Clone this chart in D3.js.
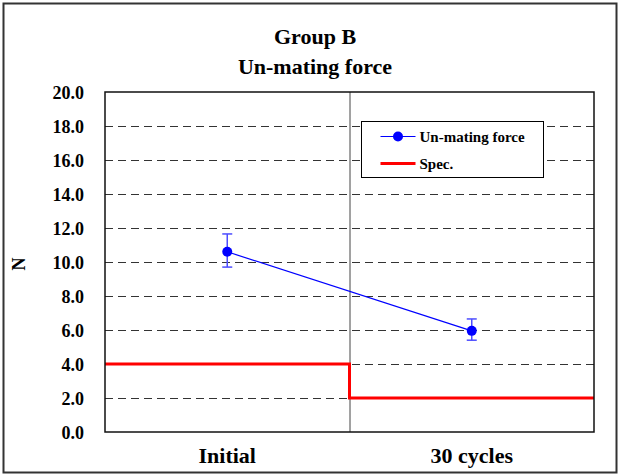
<!DOCTYPE html>
<html>
<head>
<meta charset="utf-8">
<script src="https://cdn.jsdelivr.net/npm/d3@7"></script>
<style>
  html, body { margin: 0; padding: 0; background: #fff; }
  svg { display: block; }
  text { font-family: "Liberation Serif", "Times New Roman", serif; font-weight: bold; fill: #000; }
</style>
</head>
<body>
<svg id="chart" width="621" height="475"></svg>
<script>
// ---- data ----
const categories = ["Initial", "30 cycles"];
const meanValues = [10.6, 5.95];
const errHigh = [11.65, 6.65];
const errLow = [9.7, 5.4];
const specValues = [4.0, 2.0];
const yTicks = [0, 2, 4, 6, 8, 10, 12, 14, 16, 18, 20];
const titleLines = ["Group B", "Un-mating force"];
const seriesNames = ["Un-mating force", "Spec."];

// ---- layout ----
const W = 621, H = 475;
const plot = { left: 105, right: 594, top: 92, bottom: 432 };
const svg = d3.select("#chart");

// outer frame
svg.append("rect")
  .attr("x", 3.5).attr("y", 3.5)
  .attr("width", 613).attr("height", 469)
  .attr("fill", "#fff").attr("stroke", "#333").attr("stroke-width", 2);

// titles
svg.selectAll("text.title").data(titleLines).join("text")
  .attr("class", "title")
  .attr("x", 315).attr("y", (d, i) => 44 + i * 30)
  .attr("text-anchor", "middle")
  .style("font-size", "22px")
  .text(d => d);

const x = d3.scaleBand().domain(categories).range([plot.left, plot.right]);
const y = d3.scaleLinear().domain([0, 20]).range([plot.bottom, plot.top]);

// gridlines
const grid = svg.append("g").attr("transform", `translate(${plot.left},0)`)
  .call(d3.axisLeft(y).tickValues(yTicks.filter(v => v > 0 && v < 20))
    .tickSize(-(plot.right - plot.left)).tickFormat(""));
grid.select(".domain").remove();
grid.selectAll(".tick line")
  .attr("stroke", "#333").attr("stroke-width", 1)
  .attr("stroke-dasharray", "8,5");

// category divider
svg.append("line")
  .attr("x1", x(categories[1]) + 0.5).attr("x2", x(categories[1]) + 0.5)
  .attr("y1", plot.top).attr("y2", plot.bottom)
  .attr("stroke", "#444").attr("stroke-width", 1);

// y-axis labels
const yAxis = svg.append("g").attr("transform", `translate(${plot.left - 21},0)`)
  .call(d3.axisLeft(y).tickValues(yTicks).tickSize(0).tickPadding(0).tickFormat(d3.format(".1f")));
yAxis.select(".domain").remove();
yAxis.selectAll("text")
  .style("font-size", "18px")
  .style("font-family", "'Liberation Serif', serif")
  .style("font-weight", "bold")
  .attr("fill", "#000")
  .attr("dy", "0.35em");

// x-axis labels
const xAxis = svg.append("g").attr("transform", `translate(0,${plot.bottom})`)
  .call(d3.axisBottom(x).tickSize(0).tickPadding(0));
xAxis.select(".domain").remove();
xAxis.selectAll("text")
  .attr("y", 31).attr("dy", 0)
  .style("font-size", "22px")
  .style("font-family", "'Liberation Serif', serif")
  .style("font-weight", "bold")
  .attr("fill", "#000");

// y-axis title
svg.append("text")
  .attr("transform", `translate(25,${(plot.top + plot.bottom) / 2 + 2}) rotate(-90)`)
  .attr("text-anchor", "middle")
  .style("font-size", "18px")
  .text("N");

// spec step line
const specPts = categories.map((c, i) => [x(c), specValues[i]]);
specPts.push([plot.right, specValues[specValues.length - 1]]);
svg.append("path")
  .datum(specPts)
  .attr("fill", "none").attr("stroke", "#ff0000").attr("stroke-width", 3)
  .attr("d", d3.line().x(d => d[0]).y(d => y(d[1])).curve(d3.curveStepAfter));

// series line
const pts = categories.map((c, i) => ({ c, v: meanValues[i], lo: errLow[i], hi: errHigh[i] }));
svg.append("path")
  .datum(pts)
  .attr("fill", "none").attr("stroke", "#0000ff").attr("stroke-width", 1.2)
  .attr("d", d3.line().x(d => x(d.c) + x.bandwidth() / 2).y(d => y(d.v)));

// error bars
const eb = svg.append("g").attr("stroke", "#4d4dff").attr("stroke-width", 1.5);
pts.forEach(d => {
  const cx = x(d.c) + x.bandwidth() / 2;
  eb.append("line").attr("x1", cx).attr("x2", cx).attr("y1", y(d.lo)).attr("y2", y(d.hi));
  eb.append("line").attr("x1", cx - 5).attr("x2", cx + 5).attr("y1", y(d.lo)).attr("y2", y(d.lo));
  eb.append("line").attr("x1", cx - 5).attr("x2", cx + 5).attr("y1", y(d.hi)).attr("y2", y(d.hi));
});

// markers
svg.selectAll("circle.pt").data(pts).join("circle")
  .attr("class", "pt")
  .attr("cx", d => x(d.c) + x.bandwidth() / 2)
  .attr("cy", d => y(d.v))
  .attr("r", 5)
  .attr("fill", "#0000ff");

// plot frame
svg.append("rect")
  .attr("x", plot.left).attr("y", plot.top)
  .attr("width", plot.right - plot.left).attr("height", plot.bottom - plot.top)
  .attr("fill", "none").attr("stroke", "#111").attr("stroke-width", 1.5);

// legend
const lg = svg.append("g").attr("transform", "translate(361.5,121.5)");
lg.append("rect").attr("width", 182).attr("height", 56)
  .attr("fill", "#fff").attr("stroke", "#000").attr("stroke-width", 1);
const legendColors = ["#0000ff", "#ff0000"];
seriesNames.forEach((name, i) => {
  const row = lg.append("g").attr("transform", `translate(0,${15 + i * 27})`);
  row.append("line").attr("x1", 19).attr("x2", 54).attr("y1", 0).attr("y2", 0)
    .attr("stroke", legendColors[i]).attr("stroke-width", i === 0 ? 1.2 : 3);
  if (i === 0) row.append("circle").attr("cx", 36.5).attr("cy", 0).attr("r", 5).attr("fill", legendColors[i]);
  row.append("text").attr("x", 58).attr("y", 5).style("font-size", "15px").text(name);
});
</script>
</body>
</html>
